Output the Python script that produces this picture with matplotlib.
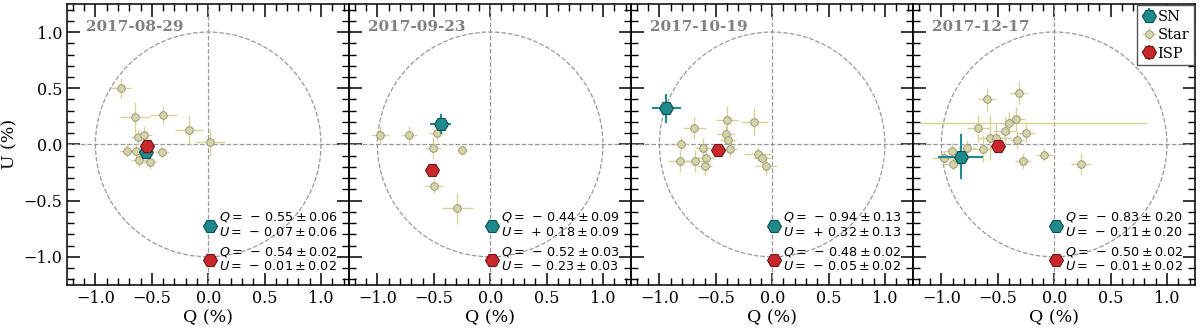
# Q-U diagrams of the SN, field stars and ISP estimate for four epochs
import numpy as np
import matplotlib.pyplot as plt

plt.rcParams.update({
    "font.family": "serif",
    "font.serif": ["DejaVu Serif"],
    "mathtext.fontset": "dejavusans",
})

dates = ['2017-08-29', '2017-09-23', '2017-10-19', '2017-12-17']

# SN polarisation (Q, U, error)
sn_q = [-0.55, -0.44, -0.94, -0.83]
sn_u = [-0.07, 0.18, 0.32, -0.11]
sn_err = [0.06, 0.09, 0.13, 0.20]

# ISP estimate (Q, U, error)
isp_q = [-0.54, -0.52, -0.48, -0.50]
isp_u = [-0.01, -0.23, -0.05, -0.01]
isp_err = [0.02, 0.03, 0.02, 0.02]

# field stars, one list per epoch
star_q = [
    [-0.77, -0.65, -0.40, -0.17, 0.02, -0.62, -0.57, -0.72, -0.64, -0.41, -0.61, -0.52],
    [-0.98, -0.72, -0.47, -0.51, -0.25, -0.50, -0.29],
    [-0.69, -0.40, -0.16, -0.41, -0.39, -0.81, -0.61, -0.37, -0.59, -0.82, -0.685, -0.60,
     -0.13, -0.09, -0.054],
    [-0.31, -0.595, -0.34, -0.40, -0.675, -0.44, -0.25, -0.57, -0.52, -0.33, -0.77, -0.63,
     -0.91, -0.98, -0.90, -0.09, -0.28, 0.24],
]
star_u = [
    [0.50, 0.24, 0.26, 0.13, 0.02, 0.065, 0.085, -0.055, -0.06, -0.07, -0.14, -0.16],
    [0.08, 0.08, 0.10, -0.03, -0.05, -0.37, -0.57],
    [0.146, 0.22, 0.20, 0.09, 0.036, 0.006, -0.033, -0.04, -0.12, -0.146, -0.149, -0.196,
     -0.087, -0.12, -0.196],
    [0.46, 0.40, 0.23, 0.19, 0.143, 0.12, 0.10, 0.06, 0.06, 0.04, -0.033, -0.04,
     -0.06, -0.12, -0.17, -0.09, -0.15, -0.17],
]
# lower / upper Q errors and U errors
star_qlo = [
    [0.09, 0.13, 0.12, 0.12, 0.13, 0.06, 0.07, 0.06, 0.06, 0.06, 0.07, 0.06],
    [0.08, 0.07, 0.07, 0.07, 0.04, 0.08, 0.14],
    [0.10, 0.10, 0.12, 0.08, 0.07, 0.06, 0.07, 0.06, 0.08, 0.10, 0.10, 0.07,
     0.12, 0.08, 0.10],
    [0.08, 0.08, 0.08, 0.80, 0.10, 0.10, 0.08, 0.10, 0.15, 0.06, 0.08, 0.10,
     0.08, 0.10, 0.08, 0.07, 0.07, 0.09],
]
star_qhi = [
    [0.09, 0.13, 0.12, 0.12, 0.13, 0.06, 0.07, 0.06, 0.06, 0.06, 0.07, 0.06],
    [0.08, 0.07, 0.07, 0.07, 0.04, 0.08, 0.14],
    [0.10, 0.10, 0.12, 0.08, 0.07, 0.06, 0.07, 0.06, 0.08, 0.10, 0.10, 0.07,
     0.12, 0.08, 0.10],
    [0.08, 0.08, 0.08, 1.22, 0.10, 0.10, 0.08, 0.10, 0.15, 0.06, 0.08, 0.10,
     0.08, 0.10, 0.08, 0.07, 0.07, 0.09],
]
star_uerr = [
    [0.09, 0.14, 0.08, 0.13, 0.12, 0.06, 0.08, 0.06, 0.06, 0.05, 0.06, 0.06],
    [0.08, 0.08, 0.06, 0.09, 0.04, 0.06, 0.14],
    [0.10, 0.12, 0.12, 0.08, 0.07, 0.06, 0.09, 0.07, 0.07, 0.10, 0.10, 0.08,
     0.06, 0.05, 0.08],
    [0.10, 0.10, 0.10, 0.10, 0.12, 0.12, 0.08, 0.20, 0.12, 0.08, 0.07, 0.12,
     0.07, 0.06, 0.06, 0.06, 0.07, 0.09],
]

sn_col = '#1f8a8c'
isp_col = '#c8282c'
star_face = '#d6d3a6'
star_bar = '#d8d29a'


def fmt(v):
    # old-style mathtext look: space around the sign
    sign = '-' if v < 0 else '+'
    return f'{sign}\\,{abs(v):.2f}'


fig, axes = plt.subplots(1, 4, figsize=(12, 3.29), dpi=100, sharey=True)
plt.subplots_adjust(left=0.056, right=0.996, top=0.988, bottom=0.134, wspace=0)

for i, ax in enumerate(axes):
    ax.patch.set_alpha(0)   # let the labels spill into the next panel
    ax.add_patch(plt.Circle((0, 0), 1.0, fill=False, ls='--', color='#999999', lw=0.9))
    ax.axhline(0, ls='--', color='#999999', lw=0.9)
    ax.axvline(0, ls='--', color='#999999', lw=0.9)

    ax.errorbar(star_q[i], star_u[i], xerr=[star_qlo[i], star_qhi[i]], yerr=star_uerr[i],
                fmt='o', ms=5.5, mfc=star_face, mec='#8f8e6e', mew=0.6,
                ecolor=star_bar, elinewidth=1, capsize=0, label='Star', zorder=3)
    ax.errorbar(sn_q[i], sn_u[i], xerr=sn_err[i], yerr=sn_err[i], fmt='H', ms=10,
                mfc=sn_col, mec='#0f4f50', mew=0.8, ecolor=sn_col, elinewidth=1.5,
                capsize=0, label='SN', zorder=5)
    ax.errorbar(isp_q[i], isp_u[i], xerr=isp_err[i], yerr=isp_err[i], fmt='H', ms=10,
                mfc=isp_col, mec='#6a1517', mew=0.8, ecolor=isp_col, elinewidth=1.5,
                capsize=0, label='ISP', zorder=5)

    # summary values at the bottom
    ax.plot(0.02, -0.73, 'H', ms=10, mfc=sn_col, mec='#0f4f50', mew=0.8, zorder=5)
    ax.plot(0.02, -1.03, 'H', ms=10, mfc=isp_col, mec='#6a1517', mew=0.8, zorder=5)
    lines = [
        (-0.65, f'$Q = \\,{fmt(sn_q[i])} \\pm {sn_err[i]:.2f}$'),
        (-0.785, f'$U = \\,{fmt(sn_u[i])} \\pm {sn_err[i]:.2f}$'),
        (-0.955, f'$Q = \\,{fmt(isp_q[i])} \\pm {isp_err[i]:.2f}$'),
        (-1.085, f'$U = \\,{fmt(isp_u[i])} \\pm {isp_err[i]:.2f}$'),
    ]
    for y, s in lines:
        ax.text(0.10, y, s, fontsize=9.2, va='center', ha='left', clip_on=False, zorder=6)

    ax.text(0.065, 0.917, dates[i], transform=ax.transAxes, fontsize=11, fontweight='bold',
            color='#808080', va='center', ha='left')

    ax.set_xlim(-1.25, 1.25)
    ax.set_ylim(-1.25, 1.25)
    ax.set_xticks([-1.0, -0.5, 0.0, 0.5, 1.0])
    ax.set_yticks([-1.0, -0.5, 0.0, 0.5, 1.0])
    ax.minorticks_on()
    ax.xaxis.set_minor_locator(plt.MultipleLocator(0.1))
    ax.yaxis.set_minor_locator(plt.MultipleLocator(0.1))
    ax.tick_params(which='both', direction='in', top=True, right=True, labelsize=11.5)
    ax.tick_params(which='major', length=9, width=1.1)
    ax.tick_params(which='minor', length=5, width=1.0)
    for s in ax.spines.values():
        s.set_linewidth(1.1)
    ax.set_xlabel('Q (%)', fontsize=12.5, labelpad=2)

axes[0].set_ylabel('U (%)', fontsize=12.5)

h, l = axes[3].get_legend_handles_labels()
order = [l.index('SN'), l.index('Star'), l.index('ISP')]
axes[3].legend([h[k] for k in order], [l[k] for k in order], loc='upper right',
               fontsize=10.5, handletextpad=0.1, borderpad=0.3, labelspacing=0.3,
               handlelength=1.0, borderaxespad=0.1, framealpha=1, edgecolor='#555555',
               fancybox=False)

plt.savefig('out.png', dpi=100)
